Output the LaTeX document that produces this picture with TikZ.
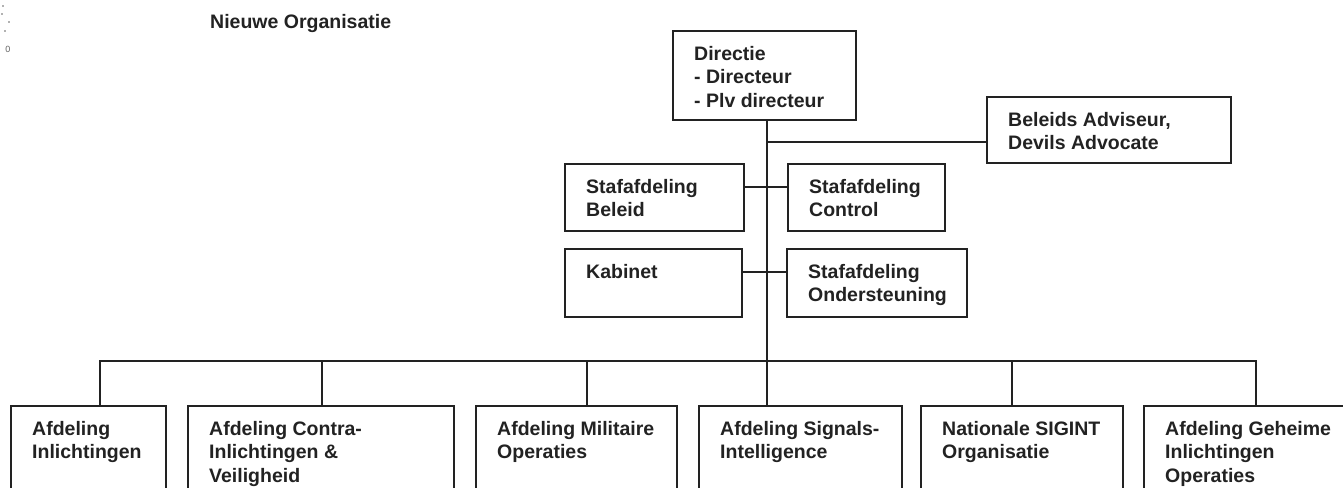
\documentclass[tikz,border=0pt]{standalone}
\usepackage{fontspec}
\setmainfont{Liberation Sans}
\definecolor{ink}{HTML}{222222}
\newcommand\orgbox[6]{%
  \node[box, minimum width={#4-#2}, minimum height={#5-#3}] (#1) at (#2,#3) {};
  \node[lbl] (#1-t) at (#2+21,#3+15) {#6};}
\begin{document}
\begin{tikzpicture}[x=1pt,y=-1pt,
  box/.style={draw=ink, line width=1.8pt, inner sep=0pt, outer sep=0pt, anchor=north west},
  lbl/.style={font=\fontsize{19.5}{23.5}\selectfont\bfseries, align=left, inner sep=0pt, anchor=north west, text=ink},
  conn/.style={line width=1.8pt, draw=ink}]
\useasboundingbox (0,0) rectangle (1343,487);
\clip (0,0) rectangle (1343,487);
\fill[white] (0,0) rectangle (1343,487);
% scan marks
\fill[ink!70] (3,6) circle (0.9);
\fill[ink!70] (2,14) circle (0.9);
\fill[ink!70] (9,22) circle (0.9);
\fill[ink!70] (5,31) circle (0.9);
\node[font=\fontsize{9}{9}\selectfont, text=ink!70, inner sep=0pt] (mark) at (8,49) {0};
% title
\node[lbl, anchor=base west] (title) at (210,29) {Nieuwe Organisatie};
% top boxes
\orgbox{dir}{673}{31}{856}{120}{Directie\\- Directeur\\- Plv directeur}
\orgbox{adv}{987}{97}{1231}{163}{Beleids Adviseur,\\Devils Advocate}
\orgbox{sb}{565}{164}{744}{231}{Stafafdeling\\Beleid}
\orgbox{sc}{788}{164}{945}{231}{Stafafdeling\\Control}
\orgbox{kab}{565}{249}{742}{317}{Kabinet}
\orgbox{so}{787}{249}{967}{317}{Stafafdeling\\Ondersteuning}
% bottom boxes
\orgbox{b1}{11}{406}{166}{520}{Afdeling\\Inlichtingen}
\orgbox{b2}{188}{406}{454}{520}{Afdeling Contra-\\Inlichtingen \&\\Veiligheid}
\orgbox{b3}{476}{406}{677}{520}{Afdeling Militaire\\Operaties}
\orgbox{b4}{699}{406}{902}{520}{Afdeling Signals-\\Intelligence}
\orgbox{b5}{921}{406}{1123}{520}{Nationale SIGINT\\Organisatie}
\orgbox{b6}{1144}{406}{1360}{520}{Afdeling Geheime\\Inlichtingen\\Operaties}
% junctions
\coordinate (top) at (767,120);
\coordinate (jadv) at (767,142);
\coordinate (jsb) at (767,187);
\coordinate (jkab) at (767,272);
\coordinate (bus) at (767,361);
\coordinate (d1) at (100,361);
\coordinate (d2) at (322,361);
\coordinate (d3) at (587,361);
\coordinate (d5) at (1012,361);
\coordinate (d6) at (1256,361);
% connectors
\draw[conn] (top |- dir.south) -- (bus |- b4.north);
\draw[conn] (jadv) -- (jadv -| adv.west);
\draw[conn] (jsb -| sb.east) -- (jsb -| sc.west);
\draw[conn] (jkab -| kab.east) -- (jkab -| so.west);
\draw[conn, line cap=rect] (d1) -- (d6);
\draw[conn] (d1) -- (d1 |- b1.north);
\draw[conn] (d2) -- (d2 |- b2.north);
\draw[conn] (d3) -- (d3 |- b3.north);
\draw[conn] (d5) -- (d5 |- b5.north);
\draw[conn] (d6) -- (d6 |- b6.north);
\end{tikzpicture}
\end{document}
